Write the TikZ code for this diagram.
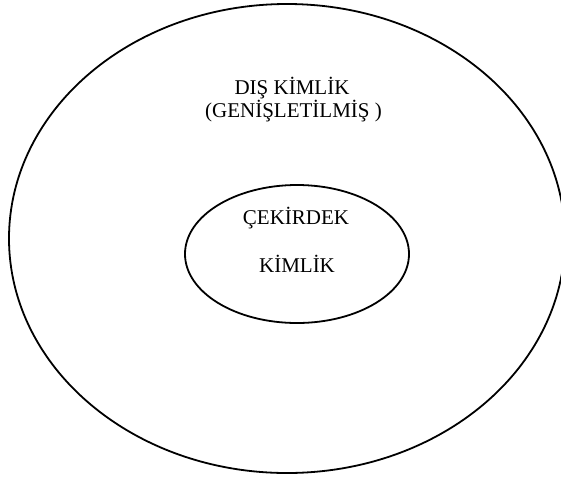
\documentclass[tikz,border=0pt]{standalone}
\usepackage{fontspec}
\setmainfont{Liberation Serif}
\usetikzlibrary{shapes.geometric}
\begin{document}
\begin{tikzpicture}[x=1pt,y=-1pt,
  ring/.style={draw=black,line width=1.8pt,ellipse,inner sep=0pt},
  label/.style={font=\fontsize{21}{25}\selectfont,anchor=base,inner sep=0pt}]
  \useasboundingbox[fill=white] (0,0) rectangle (561,480);
  % outer identity ring
  \node[ring,minimum width=556pt,minimum height=469pt] (outer) at (287,238.5) {};
  % inner core ring
  \node[ring,minimum width=224pt,minimum height=138pt] (inner) at (297,254) {};
  % labels
  \node[label] (dis1) at (292,94) {DIŞ KİMLİK};
  \node[label] (dis2) at (293.5,117) {(GENİŞLETİLMİŞ )};
  \node[label] (cek) at (296,224) {ÇEKİRDEK};
  \node[label] (kim) at (297,272) {KİMLİK};
\end{tikzpicture}
\end{document}
